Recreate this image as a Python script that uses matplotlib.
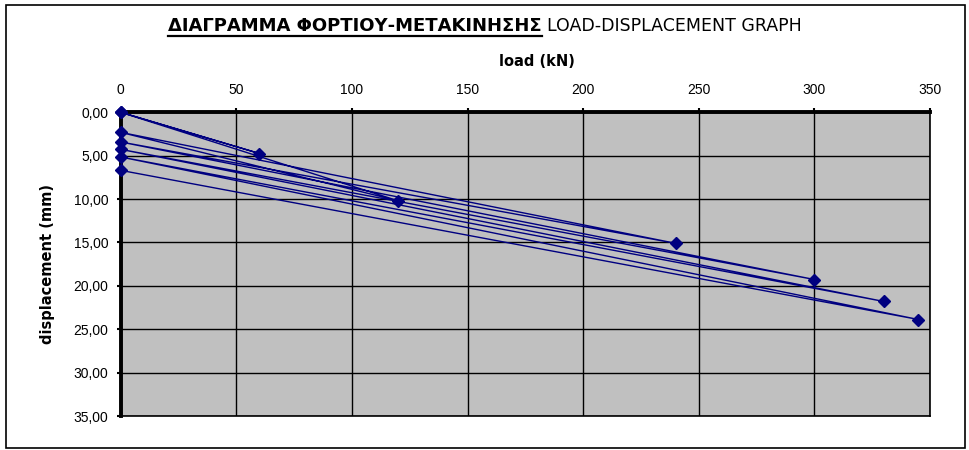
import matplotlib
matplotlib.use('Agg')
import matplotlib.pyplot as plt
from matplotlib.ticker import FuncFormatter, MultipleLocator
from matplotlib.patches import Rectangle
from matplotlib.lines import Line2D

# load cycles: load -> unload to residual displacement
load = [0, 60, 0, 120, 0, 240, 0, 300, 0, 330, 0, 345, 0]
displacement = [0, 4.75, 0, 10.2, 2.31, 15.1, 3.42, 19.27, 4.27, 21.8, 5.15, 23.88, 6.69]

title_gr = 'ΔΙΑΓΡΑΜΜΑ ΦΟΡΤΙΟΥ-ΜΕΤΑΚΙΝΗΣΗΣ'
title_en = 'LOAD-DISPLACEMENT GRAPH'
xlabel = 'load (kN)'
ylabel = 'displacement (mm)'

narrow = ['Liberation Sans Narrow', 'DejaVu Sans Condensed', 'DejaVu Sans']
plt.rcParams['font.family'] = ['Liberation Sans', 'DejaVu Sans']

W, H = 970, 450
fig = plt.figure(figsize=(W / 100, H / 100), dpi=100)

# chart border
fig.add_artist(Rectangle((6 / W, 2 / H), 959 / W, 443 / H, transform=fig.transFigure,
                         fill=False, edgecolor='black', lw=1.2))

ax = fig.add_axes([120.7 / W, 1 - 416 / H, 809.3 / W, 303.7 / H])
ax.set_facecolor('#c0c0c0')
ax.plot(load, displacement, color='#000080', lw=1, marker='D', ms=6,
        mfc='#000080', mec='#000080', clip_on=False, zorder=5)

ax.set_xlim(0, 350)
ax.set_ylim(35, 0)
ax.xaxis.set_major_locator(MultipleLocator(50))
ax.yaxis.set_major_locator(MultipleLocator(5))
ax.yaxis.set_major_formatter(FuncFormatter(lambda v, p: f'{v:.2f}'.replace('.', ',')))
ax.xaxis.tick_top()
ax.grid(True, color='black', lw=1)
ax.set_axisbelow(True)

for s in ['top', 'left']:
    ax.spines[s].set_linewidth(2.8)
for s in ['right', 'bottom']:
    ax.spines[s].set_linewidth(1.2)

ax.tick_params(axis='both', direction='out', length=3, width=1.5, labelsize=10, pad=6)
ax.tick_params(axis='x', pad=8)

ax.text(0.514, 1.166, xlabel, transform=ax.transAxes, ha='center', va='center',
        fontsize=10.5, fontweight='bold', family=narrow)
ax.text(-0.091, 0.5, ylabel, transform=ax.transAxes, ha='center', va='center',
        rotation=90, fontsize=10.5, fontweight='bold', family=narrow)

t1 = fig.text(542 / W, 1 - 31 / H, title_gr, ha='right', va='baseline',
              fontsize=13, fontweight='bold', family=narrow)
fig.text(547 / W, 1 - 31 / H, title_en, ha='left', va='baseline',
         fontsize=12.5, family=narrow)

# underline for the greek part
r = fig.canvas.get_renderer()
bb = t1.get_window_extent(renderer=r)
yl = (bb.y0 - 1) / H
fig.add_artist(Line2D([bb.x0 / W, bb.x1 / W], [yl, yl], transform=fig.transFigure,
                      color='black', lw=1.6))

fig.savefig('out.png', dpi=100)
